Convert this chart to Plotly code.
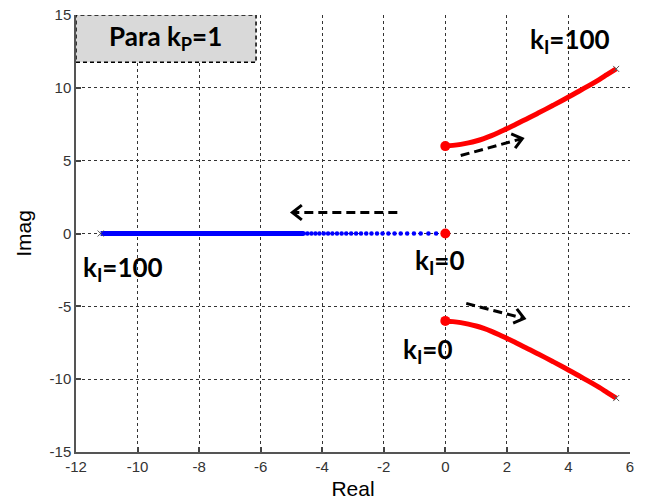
import math
import plotly.graph_objects as go

# Root locus of the closed loop with a PI controller, k_P = 1, k_I swept 0 -> 100
# Complex branch (upper half); the lower branch is its conjugate
upper_real = [0.0, 0.25, 0.5, 0.75, 1.0, 1.25, 1.5, 1.75, 2.0, 2.25, 2.5, 2.75, 3.0,
              3.25, 3.5, 3.75, 4.0, 4.25, 4.5, 4.75, 5.0, 5.25, 5.55]
upper_imag = [6.0, 6.05, 6.12, 6.22, 6.35, 6.52, 6.72, 6.95, 7.2, 7.45, 7.72, 7.98, 8.25,
              8.52, 8.8, 9.08, 9.37, 9.66, 9.96, 10.26, 10.57, 10.9, 11.3]
lower_real = upper_real
lower_imag = [-v for v in upper_imag]

# Real branch: dense points that merge into a thick line, sparse ones near the origin
real_solid = [-11.2, -4.6]
real_dots = [0.0, -0.3, -0.55, -0.8, -1.02, -1.24, -1.45, -1.65, -1.85, -2.04, -2.22,
             -2.4, -2.57, -2.74, -2.9, -3.06, -3.22, -3.37, -3.52, -3.67, -3.81, -3.95,
             -4.09, -4.22, -4.35, -4.48, -4.6]

x_ticks = [-12, -10, -8, -6, -4, -2, 0, 2, 4, 6]
y_ticks = [-15, -10, -5, 0, 5, 10, 15]

W, H = 649, 503
ML, MR, MT, MB = 76, 19, 15, 51
X_RANGE = [-12, 6]
Y_RANGE = [-15, 15]
sx = (W - ML - MR) / (X_RANGE[1] - X_RANGE[0])
sy = (H - MT - MB) / (Y_RANGE[1] - Y_RANGE[0])

fig = go.Figure()

# real-axis branch
fig.add_trace(go.Scatter(x=real_solid, y=[0] * len(real_solid), mode="lines",
                         line=dict(color="#0000ff", width=5), hoverinfo="skip"))
fig.add_trace(go.Scatter(x=real_dots, y=[0] * len(real_dots), mode="markers",
                         marker=dict(color="#0000ff", size=4.5, line=dict(width=0)),
                         hoverinfo="skip"))

# complex branches
for xs, ys in [(upper_real, upper_imag), (lower_real, lower_imag)]:
    fig.add_trace(go.Scatter(x=xs, y=ys, mode="lines",
                             line=dict(color="#ff0000", width=5, shape="spline"),
                             hoverinfo="skip"))

# starting points (k_I = 0)
fig.add_trace(go.Scatter(x=[upper_real[0], lower_real[0], real_dots[0]],
                         y=[upper_imag[0], lower_imag[0], 0], mode="markers",
                         marker=dict(color="#ff0000", size=10), hoverinfo="skip"))
# end points (k_I = 100)
fig.add_trace(go.Scatter(x=[upper_real[-1], lower_real[-1], real_solid[0]],
                         y=[upper_imag[-1], lower_imag[-1], 0], mode="markers",
                         marker=dict(color="#555555", size=6, symbol="x-thin",
                                     line=dict(width=1, color="#555555")),
                         hoverinfo="skip"))

shapes = []
# dashed box of the k_P caption
shapes.append(dict(type="rect", xref="x", yref="y", x0=-12, x1=-6.15, y0=11.75, y1=15,
                   fillcolor="#d9d9d9", line=dict(color="black", width=1.5, dash="4px,3px"),
                   layer="above"))

# direction arrows: dashed shaft with an open chevron head
arrows = [((0.5, 5.35), (2.5, 6.52)),
          ((-1.56, 1.44), (-4.97, 1.44)),
          ((0.68, -4.8), (2.56, -5.83))]
for (x0, y0), (x1, y1) in arrows:
    shapes.append(dict(type="line", xref="x", yref="y", x0=x0, y0=y0, x1=x1, y1=y1,
                       line=dict(color="black", width=3, dash="9px,5px"), layer="above"))
    dxp, dyp = (x1 - x0) * sx, (y1 - y0) * sy
    n = math.hypot(dxp, dyp)
    ux, uy = dxp / n, dyp / n
    pts = []
    for ang in (math.radians(38), -math.radians(38)):
        rx = ux * math.cos(ang) - uy * math.sin(ang)
        ry = ux * math.sin(ang) + uy * math.cos(ang)
        pts.append((x1 - 12 * rx / sx, y1 - 12 * ry / sy))
    path = (f"M {pts[0][0]},{pts[0][1]} L {x1},{y1} L {pts[1][0]},{pts[1][1]}")
    shapes.append(dict(type="path", xref="x", yref="y", path=path,
                       line=dict(color="black", width=3), layer="above"))

label_font = dict(family="Lato, Open Sans, sans-serif", size=26, color="black")
annotations = [
    dict(x=-9.1, y=13.45, text="<b>Para k<sub>P</sub>=1</b>", font=dict(
        family="Lato, Open Sans, sans-serif", size=26, color="black")),
    dict(x=4.06, y=13.25, text="<b>k<sub>I</sub>=100</b>", font=label_font),
    dict(x=-10.47, y=-2.4, text="<b>k<sub>I</sub>=100</b>", font=label_font),
    dict(x=-0.19, y=-1.92, text="<b>k<sub>I</sub>=0</b>", font=label_font),
    dict(x=-0.57, y=-8.03, text="<b>k<sub>I</sub>=0</b>", font=label_font),
]
for a in annotations:
    a.update(xref="x", yref="y", showarrow=False, xanchor="center", yanchor="middle")

tick_font = dict(family="Liberation Sans Narrow, Arial Narrow, Liberation Sans, sans-serif",
                 size=15, color="#333333")
axis_common = dict(showgrid=True, gridcolor="#333333", griddash="3px,3px", gridwidth=1,
                   showline=True, linecolor="#555555", linewidth=1.5, zeroline=False,
                   ticks="inside", ticklen=5, tickcolor="#444444", tickwidth=1.5,
                   tickfont=tick_font, mirror=False, automargin=False)

title_font = dict(family="Liberation Sans Narrow, Liberation Sans, sans-serif",
                  size=21, color="black")

fig.update_layout(
    width=W, height=H,
    margin=dict(l=ML, r=MR, t=MT, b=MB, autoexpand=False),
    paper_bgcolor="white", plot_bgcolor="white",
    showlegend=False,
    shapes=shapes,
    annotations=annotations,
    xaxis=dict(range=X_RANGE, tickvals=x_ticks, ticktext=[str(v) for v in x_ticks],
               title=dict(text="Real", font=title_font, standoff=8),
               **axis_common),
    yaxis=dict(range=Y_RANGE, tickvals=y_ticks, ticktext=[str(v) for v in y_ticks],
               title=dict(text="Imag", font=title_font, standoff=12),
               **axis_common),
)

fig.write_html("out.html")
